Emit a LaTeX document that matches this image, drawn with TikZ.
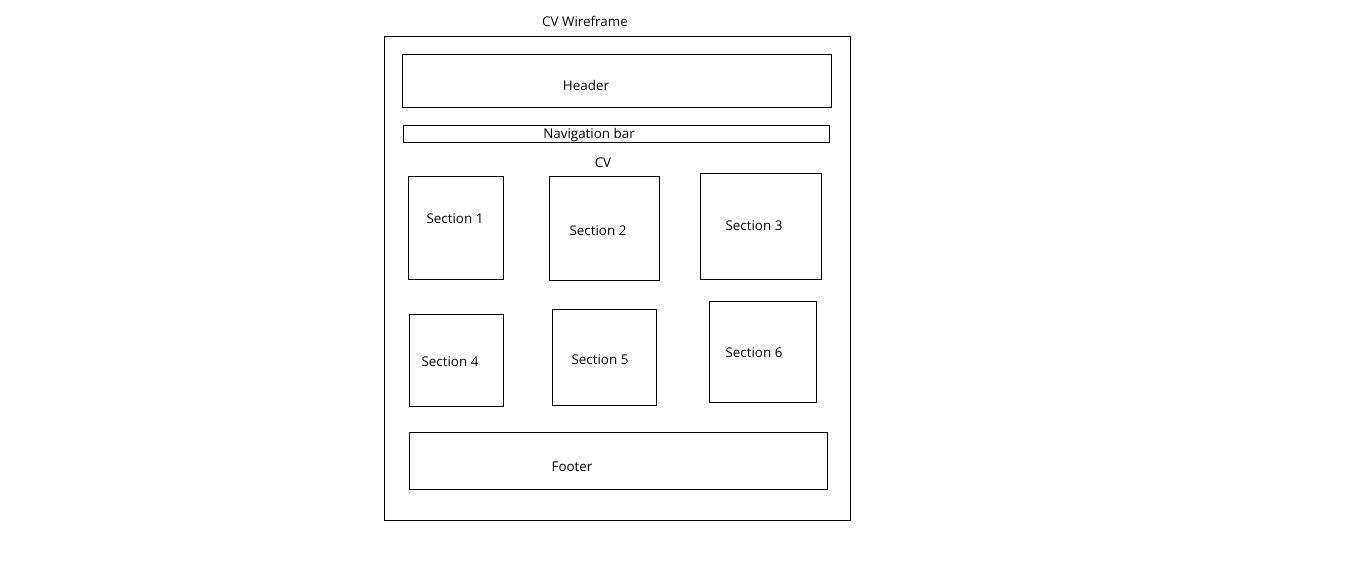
\documentclass[tikz,border=0pt]{standalone}
\usepackage{fontspec}
\setmainfont{Open Sans}
\usetikzlibrary{positioning}

\begin{document}
\begin{tikzpicture}[x=1pt, y=-1pt,
    box/.style={draw, line width=0.9pt, anchor=north west, inner sep=0pt},
    caption/.style={font=\fontsize{13.4}{16}\selectfont, inner sep=0pt}]
    \useasboundingbox (0,0) rectangle (1360,567);
    % page frame and title
    \node [box, minimum width=466pt, minimum height=484pt] (page) at (384,36) {};
    \node [caption] (title) at (585,21) {CV Wireframe};
    % header, navigation and footer
    \node [box, minimum width=429pt, minimum height=53pt] (header) at (402,54) {};
    \node [caption] at (586,85) {Header};
    \node [box, minimum width=426pt, minimum height=17pt] (navbar) at (403,125) {};
    \node [caption] at (589,135.5) {Navigation bar};
    \node [caption] (cv) at (603,163) {CV};
    \node [box, minimum width=418pt, minimum height=57pt] (footer) at (409,432) {};
    \node [caption] at (572,467) {Footer};
    % sections
    \node [box, minimum width=95pt, minimum height=103pt] (sec1) at (408,176) {};
    \node [caption] at (455,219) {Section 1};
    \node [box, minimum width=110pt, minimum height=104pt] (sec2) at (549,176) {};
    \node [caption] at (598,231) {Section 2};
    \node [box, minimum width=121pt, minimum height=106pt] (sec3) at (700,173) {};
    \node [caption] at (754,226) {Section 3};
    \node [box, minimum width=94pt, minimum height=92pt] (sec4) at (409,314) {};
    \node [caption] at (450,362) {Section 4};
    \node [box, minimum width=104pt, minimum height=96pt] (sec5) at (552,309) {};
    \node [caption] at (600,360) {Section 5};
    \node [box, minimum width=107pt, minimum height=101pt] (sec6) at (709,301) {};
    \node [caption] at (754,353) {Section 6};
\end{tikzpicture}
\end{document}
